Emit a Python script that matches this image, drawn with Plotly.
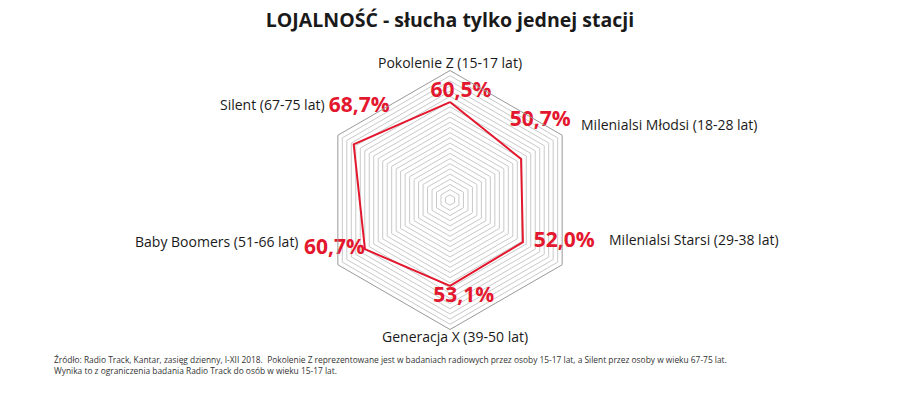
import plotly.graph_objects as go

categories = [
    "Pokolenie Z (15-17 lat)",
    "Milenialsi Młodsi (18-28 lat)",
    "Milenialsi Starsi (29-38 lat)",
    "Generacja X (39-50 lat)",
    "Baby Boomers (51-66 lat)",
    "Silent (67-75 lat)",
]
values = [60.5, 50.7, 52.0, 53.1, 60.7, 68.7]
label_positions = ["top center", "top center", "middle right", "bottom center", "middle left", "top center"]
label_lift = [False, True, False, False, False, True]
label_pad = [4, 7, 2, 5, 0, 2]

# category label placement (pixel x, pixel y, xanchor)
cat_label_place = [
    (450, 62, "center"),
    (579, 125, "left"),
    (607, 239, "left"),
    (455, 336, "center"),
    (301, 241, "right"),
    (327, 105, "right"),
]

title = "LOJALNOŚĆ - słucha tylko jednej stacji"
footer = ("Źródło: Radio Track, Kantar, zasięg dzienny, I-XII 2018.  Pokolenie Z reprezentowane jest w badaniach radiowych "
          "przez osoby 15-17 lat, a Silent przez osoby w wieku 67-75 lat.<br>"
          "Wynika to z ograniczenia badania Radio Track do osób w wieku 15-17 lat.")

RED = "#e3172d"
labels = ["\u00a0" * pad + f"{v:.1f}%".replace(".", ",") + ("<br>\u00a0" if lift else "")
          for v, lift, pad in zip(values, label_lift, label_pad)]

fig = go.Figure()
fig.add_trace(go.Scatterpolar(
    r=values + values[:1],
    theta=categories + categories[:1],
    mode="lines",
    line=dict(color=RED, width=2),
    hoverinfo="skip",
    showlegend=False,
))
fig.add_trace(go.Scatterpolar(
    r=values,
    theta=categories,
    mode="text",
    text=labels,
    textposition=label_positions,
    textfont=dict(family="Open Sans", size=21, color=RED, weight="bold"),
    hoverinfo="skip",
    showlegend=False,
))

W, H = 900, 399
cx, cy, R = 450, 200, 129.5

annotations = []
for name, (px, py, anchor) in zip(categories, cat_label_place):
    annotations.append(dict(
        text=name, x=px / W, y=1 - py / H, xref="paper", yref="paper",
        xanchor=anchor, yanchor="middle", showarrow=False,
        font=dict(family="Open Sans", size=14, color="#1a1a1a"),
    ))
annotations.append(dict(
    text=footer, x=52 / W, y=1 - 352 / H, xref="paper", yref="paper",
    xanchor="left", yanchor="top", align="left", showarrow=False,
    font=dict(family="Open Sans", size=8.4, color="#333333"),
))

fig.update_layout(
    width=W, height=H,
    margin=dict(l=0, r=0, t=0, b=0),
    paper_bgcolor="white",
    plot_bgcolor="white",
    font=dict(family="Open Sans", color="#1a1a1a"),
    title=dict(text=f"<b>{title}</b>", x=0.5, xanchor="center", y=1 - 20 / H, yanchor="middle",
               font=dict(family="Open Sans", size=19.5, color="#1a1a1a")),
    polar=dict(
        domain=dict(x=[(cx - R) / W, (cx + R) / W], y=[(H - cy - R) / H, (H - cy + R) / H]),
        gridshape="linear",
        bgcolor="white",
        radialaxis=dict(range=[0, 80], tick0=0, dtick=3.2, showticklabels=False, ticks="",
                        showline=False, gridcolor="#c9c9c9", gridwidth=1),
        angularaxis=dict(rotation=90, direction="clockwise", showgrid=False, showline=True,
                         linecolor="#999999", linewidth=1, ticks="", showticklabels=False),
    ),
    annotations=annotations,
)

fig.write_html("out.html", config={"displayModeBar": False},
               post_script="document.body.style.margin='0';")
